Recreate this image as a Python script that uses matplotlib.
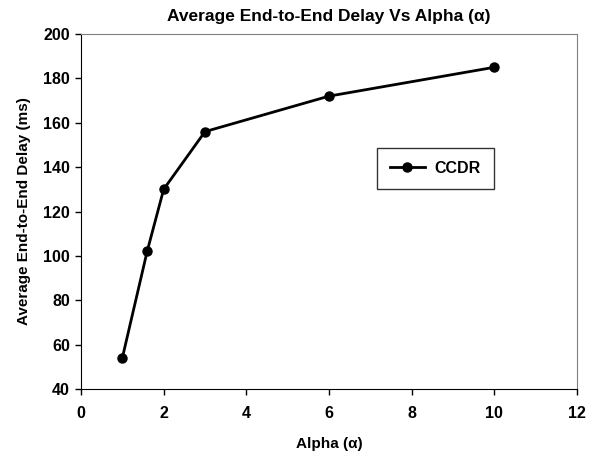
import matplotlib
matplotlib.use('Agg')
import matplotlib.pyplot as plt

plt.rcParams['font.family'] = ['Liberation Sans', 'DejaVu Sans']
plt.rcParams['font.weight'] = 'bold'

# data
alpha = [1, 1.6, 2, 3, 6, 10]
delay = [54, 102, 130, 156, 172, 185]
xticks = [0, 2, 4, 6, 8, 10, 12]
yticks = [40, 60, 80, 100, 120, 140, 160, 180, 200]

fig = plt.figure(figsize=(5.92, 4.58), dpi=100)
ax = fig.add_axes([81/592, 1 - 389/458, 496/592, 355/458])

ax.plot(alpha, delay, color='black', lw=2, marker='o', ms=6.5, label='CCDR')

ax.set_xlim(0, 12)
ax.set_ylim(40, 200)
ax.set_xticks(xticks)
ax.set_yticks(yticks)
ax.tick_params(direction='out', length=4, width=1, labelsize=11.5, pad=4)
for lab in ax.get_xticklabels() + ax.get_yticklabels():
  lab.set_fontweight('bold')
ax.tick_params(axis='x', pad=8)

for s in ['top', 'right']:
  ax.spines[s].set_color('#808080')
for s in ['left', 'bottom']:
  ax.spines[s].set_color('black')

ax.set_title('Average End-to-End Delay Vs Alpha (\u03b1)', fontsize=12.5, fontweight='bold', pad=9)
ax.set_xlabel('Alpha (\u03b1)', fontsize=11, fontweight='bold', labelpad=12)
ax.set_ylabel('Average End-to-End Delay (ms)', fontsize=11, fontweight='bold', labelpad=9)

leg = ax.legend(loc='upper left', bbox_to_anchor=((377 - 81) / 496, (389 - 148) / 355),
                fancybox=False, edgecolor='black', fontsize=11.5, handlelength=2.2,
                handletextpad=0.6, borderpad=0.8, borderaxespad=0)
leg.get_frame().set_linewidth(1)

fig.savefig('out.png', dpi=100)
